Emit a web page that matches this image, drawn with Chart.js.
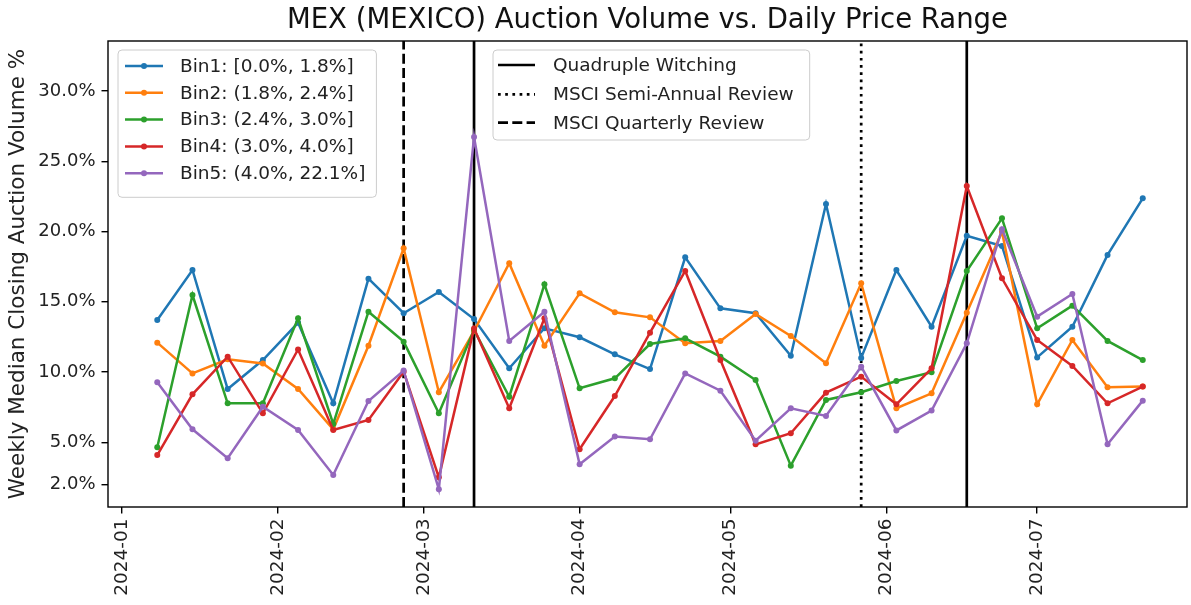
<!DOCTYPE html>
<html>
<head>
<meta charset="utf-8">
<script src="https://cdn.jsdelivr.net/npm/chart.js@4.4.1/dist/chart.umd.min.js"></script>
<style>
  html, body { margin: 0; padding: 0; background: #fff; }
  #wrap { width: 1191px; height: 605px; }
</style>
</head>
<body>
<div id="wrap"><canvas id="chart"></canvas></div>
<script>
// weekly points (Mondays)
const weeks = [
  '2024-01-08', '2024-01-15', '2024-01-22', '2024-01-29', '2024-02-05', '2024-02-12', '2024-02-19', '2024-02-26',
  '2024-03-04', '2024-03-11', '2024-03-18', '2024-03-25', '2024-04-01', '2024-04-08', '2024-04-15', '2024-04-22',
  '2024-04-29', '2024-05-06', '2024-05-13', '2024-05-20', '2024-05-27', '2024-06-03', '2024-06-10', '2024-06-17',
  '2024-06-24', '2024-07-01', '2024-07-08', '2024-07-15', '2024-07-22'
];

const bin1 = [13.70, 17.26, 8.79, 10.85, 13.5, 7.77, 16.64, 14.18, 15.69, 13.77, 10.26, 13.11, 12.47, 11.26, 10.21,
  18.16, 14.53, 14.18, 11.16, 21.96, 11.0, 17.26, 13.22, 19.7, 18.97, 11.04, 13.22, 18.33, 22.36];
const bin2 = [12.09, 9.9, 10.9, 10.6, 8.79, 5.92, 11.87, 18.8, 8.56, 12.9, 17.74, 11.87, 15.6, 14.25, 13.89,
  12.04, 12.2, 14.13, 12.56, 10.62, 16.31, 7.42, 8.48, 14.22, 19.99, 7.7, 12.28, 8.91, 8.96];
const bin3 = [4.64, 15.48, 7.77, 7.77, 13.82, 6.3, 14.29, 12.16, 7.06, 13.0, 8.24, 16.24, 8.84, 9.55, 11.99,
  12.4, 11.09, 9.43, 3.33, 8.01, 8.56, 9.36, 9.98, 17.19, 20.94, 13.11, 14.72, 12.21, 10.85];
const bin4 = [4.09, 8.41, 11.09, 7.06, 11.6, 5.87, 6.58, 10.02, 2.5, 13.1, 7.42, 13.82, 4.5, 8.29, 12.8,
  17.19, 10.85, 4.85, 5.64, 8.53, 9.67, 7.7, 10.26, 23.24, 16.67, 12.28, 10.43, 7.77, 8.96];
const bin5 = [9.27, 5.92, 3.86, 7.53, 5.87, 2.67, 7.94, 10.1, 1.65, 26.73, 12.21, 14.29, 3.43, 5.4, 5.21,
  9.9, 8.67, 5.11, 7.42, 6.87, 10.38, 5.84, 7.25, 12.04, 20.16, 13.94, 15.55, 4.85, 7.96];

const binLabels = ['Bin1: [0.0%, 1.8%]', 'Bin2: (1.8%, 2.4%]', 'Bin3: (2.4%, 3.0%]', 'Bin4: (3.0%, 4.0%]', 'Bin5: (4.0%, 22.1%]'];
const binColors = ['#1f77b4', '#ff7f0e', '#2ca02c', '#d62728', '#9467bd'];

const monthTicks = ['2024-01', '2024-02', '2024-03', '2024-04', '2024-05', '2024-06', '2024-07'];
const yTicks = [2, 5, 10, 15, 20, 25, 30];

const quadWitching = ['2024-03-11', '2024-06-17'];
const msciSemiAnnual = ['2024-05-27'];
const msciQuarterly = ['2024-02-26'];

const Y_MIN = 0.39, Y_MAX = 33.56;
const X_MIN = -2.8, X_MAX = 211.8;

const FONT = '"DejaVu Sans", sans-serif';
const day0 = Date.UTC(2024, 0, 1);
function dayOf(s) {
  const p = s.split('-').map(Number);
  return (Date.UTC(p[0], p[1] - 1, p[2] || 1) - day0) / 86400000;
}

const bins = [bin1, bin2, bin3, bin4, bin5];
const datasets = bins.map((vals, i) => ({
  label: binLabels[i],
  data: vals.map((v, j) => ({ x: dayOf(weeks[j]), y: v })),
  borderColor: binColors[i],
  backgroundColor: binColors[i],
  borderWidth: 2.5,
  pointRadius: 3,
  pointBorderWidth: 0,
  pointBackgroundColor: binColors[i],
  tension: 0,
  order: 10 - i
}));

const eventStyles = [
  { label: 'Quadruple Witching', dates: quadWitching, dash: [] },
  { label: 'MSCI Semi-Annual Review', dates: msciSemiAnnual, dash: [2.7, 4.5] },
  { label: 'MSCI Quarterly Review', dates: msciQuarterly, dash: [10, 4.3] }
];
eventStyles.forEach(ev => {
  ev.dates.forEach(d => {
    datasets.push({
      label: ev.label,
      data: [{ x: dayOf(d), y: Y_MIN }, { x: dayOf(d), y: Y_MAX }],
      borderColor: '#000',
      borderWidth: 2.7,
      borderDash: ev.dash,
      borderCapStyle: 'butt',
      pointRadius: 0,
      order: 20
    });
  });
});

function roundBox(ctx, x, y, w, h, r) {
  ctx.beginPath();
  ctx.moveTo(x + r, y);
  ctx.arcTo(x + w, y, x + w, y + h, r);
  ctx.arcTo(x + w, y + h, x, y + h, r);
  ctx.arcTo(x, y + h, x, y, r);
  ctx.arcTo(x, y, x + w, y, r);
  ctx.closePath();
  ctx.fillStyle = 'rgba(255,255,255,0.8)';
  ctx.fill();
  ctx.strokeStyle = '#cccccc';
  ctx.lineWidth = 1;
  ctx.stroke();
}

const frameAndLegends = {
  id: 'frameAndLegends',
  afterDatasetsDraw(chart) {
    const ctx = chart.ctx;
    const a = chart.chartArea;
    ctx.save();
    ctx.strokeStyle = '#000';
    ctx.lineWidth = 1.4;
    ctx.strokeRect(a.left, a.top, a.right - a.left, a.bottom - a.top);

    ctx.font = '18.5px ' + FONT;
    ctx.textBaseline = 'middle';
    ctx.textAlign = 'left';

    // legend 1: bins
    let bx = a.left + 10, by = a.top + 9;
    roundBox(ctx, bx, by, 258.4, 147.3, 4);
    binLabels.forEach((lab, i) => {
      const yy = by + 16 + i * 26.8;
      ctx.strokeStyle = binColors[i];
      ctx.lineWidth = 2.5;
      ctx.setLineDash([]);
      ctx.beginPath();
      ctx.moveTo(bx + 7, yy);
      ctx.lineTo(bx + 45, yy);
      ctx.stroke();
      ctx.fillStyle = binColors[i];
      ctx.beginPath();
      ctx.arc(bx + 26, yy, 3, 0, Math.PI * 2);
      ctx.fill();
      ctx.fillStyle = '#222';
      ctx.fillText(lab, bx + 62, yy + 1);
    });

    // legend 2: events
    bx = a.left + 385; by = a.top + 9;
    roundBox(ctx, bx, by, 316.7, 90, 4);
    const rows = [15, 44.3, 72.7];
    eventStyles.forEach((ev, i) => {
      const yy = by + rows[i];
      ctx.strokeStyle = '#000';
      ctx.lineWidth = 2.7;
      ctx.lineCap = 'butt';
      ctx.setLineDash(ev.dash);
      ctx.beginPath();
      ctx.moveTo(bx + 5, yy);
      ctx.lineTo(bx + 42, yy);
      ctx.stroke();
      ctx.setLineDash([]);
      ctx.fillStyle = '#222';
      ctx.fillText(ev.label, bx + 60, yy + 1);
    });
    ctx.restore();
  }
};

new Chart(document.getElementById('chart'), {
  type: 'line',
  data: { datasets },
  options: {
    responsive: true,
    maintainAspectRatio: false,
    animation: false,
    events: [],
    layout: { padding: { left: 0, right: 4, top: 0, bottom: 0 } },
    plugins: {
      legend: { display: false },
      tooltip: { enabled: false },
      title: {
        display: true,
        fullSize: false,
        text: 'MEX (MEXICO) Auction Volume vs. Daily Price Range',
        color: '#111',
        font: { family: FONT, size: 27.5, weight: 'normal' },
        padding: { top: 4, bottom: 4 }
      }
    },
    scales: {
      x: {
        type: 'linear',
        min: X_MIN,
        max: X_MAX,
        afterBuildTicks: s => { s.ticks = monthTicks.map(m => ({ value: dayOf(m) })); },
        afterFit: s => { s.height = 98; },
        border: { display: false },
        grid: { drawOnChartArea: false, drawTicks: true, tickLength: 6.5, color: '#000', lineWidth: 1.4 },
        ticks: {
          color: '#222',
          font: { family: FONT, size: 18.5 },
          padding: 5,
          minRotation: 90,
          maxRotation: 90,
          autoSkip: false,
          callback: v => {
            const k = monthTicks.findIndex(m => dayOf(m) === v);
            return k >= 0 ? monthTicks[k] : '';
          }
        }
      },
      y: {
        min: Y_MIN,
        max: Y_MAX,
        afterBuildTicks: s => { s.ticks = yTicks.map(v => ({ value: v })); },
        afterFit: s => { s.width = 108; },
        border: { display: false },
        grid: { drawOnChartArea: false, drawTicks: true, tickLength: 6.5, color: '#000', lineWidth: 1.4 },
        ticks: {
          color: '#222',
          font: { family: FONT, size: 18 },
          padding: 6,
          callback: v => v.toFixed(1) + '%'
        },
        title: {
          display: true,
          text: 'Weekly Median Closing Auction Volume %',
          color: '#222',
          font: { family: FONT, size: 21.5 },
          padding: { top: 6, bottom: 0 }
        }
      }
    }
  },
  plugins: [frameAndLegends]
});
</script>
</body>
</html>
